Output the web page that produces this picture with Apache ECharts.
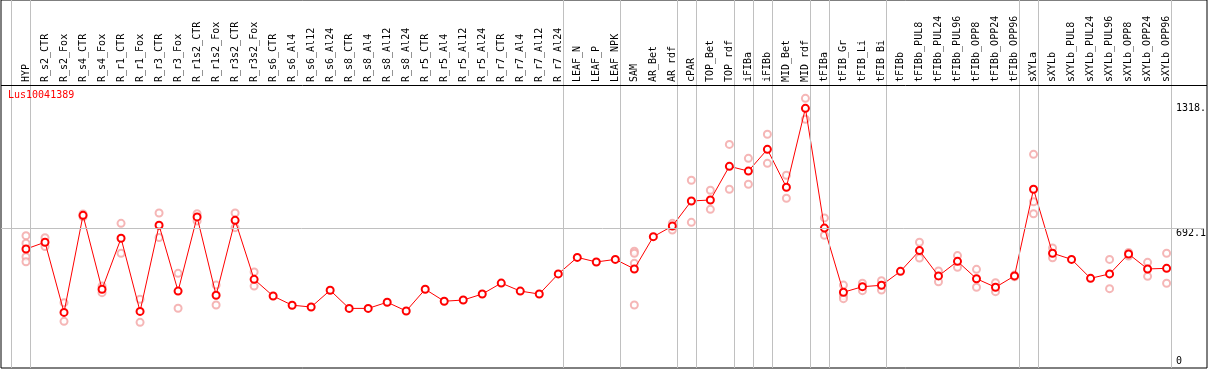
<!DOCTYPE html>
<html>
<head>
<meta charset="utf-8">
<script src="https://cdn.jsdelivr.net/npm/echarts@6/dist/echarts.min.js"></script>
<style>html,body{margin:0;padding:0;background:#fff;}#c{width:1209px;height:370px;}</style>
</head>
<body>
<div id="c"></div>
<script>
const title = 'Lus10041389';
const categories = ['HYP','R_s2_CTR','R_s2_Fox','R_s4_CTR','R_s4_Fox','R_r1_CTR','R_r1_Fox','R_r3_CTR','R_r3_Fox','R_r1s2_CTR','R_r1s2_Fox','R_r3s2_CTR','R_r3s2_Fox','R_s6_CTR','R_s6_Al4','R_s6_Al12','R_s6_Al24','R_s8_CTR','R_s8_Al4','R_s8_Al12','R_s8_Al24','R_r5_CTR','R_r5_Al4','R_r5_Al12','R_r5_Al24','R_r7_CTR','R_r7_Al4','R_r7_Al12','R_r7_Al24','LEAF_N','LEAF_P','LEAF_NPK','SAM','AR_Bet','AR_rdf','cPAR','TOP_Bet','TOP_rdf','iFIBa','iFIBb','MID_Bet','MID_rdf','tFIBa','tFIB_Gr','tFIB_Li','tFIB_Bi','tFIBb','tFIBb_PUL8','tFIBb_PUL24','tFIBb_PUL96','tFIBb_OPP8','tFIBb_OPP24','tFIBb_OPP96','sXYLa','sXYLb','sXYLb_PUL8','sXYLb_PUL24','sXYLb_PUL96','sXYLb_OPP8','sXYLb_OPP24','sXYLb_OPP96'];
const means = [587,621,269,756,385,641,274,706,376,748,355,731,435,351,305,296,380,289,289,320,276,385,325,331,361,416,376,361,462,545,522,535,487,649,702,828,833,1002,978,1087,897,1293,692,370,398,405,475,579,452,525,438,395,452,887,566,535,440,462,562,487,490];
const replicates = [
  [654,616,548,523],[644,599],[318,224],[763,749],[401,368],[716,566],[335,219],[768,645],[465,290],[764,728],[406,306],[768,694],[472,401],
  [],[],[],[],[],[],[],[],[],[],[],[],[],[],[],[],[],[],[],
  [576,566,515,306],[],[716,682],[932,721],[882,786],[1112,887],[1042,912],[1163,1017],[957,842],[1343,1238],[743,656],
  [406,351,338],[415,378],[428,381],[],[621,542],[477,423],[554,495],[485,395],[418,373],[456,448],
  [1062,824,764],[592,543],[],[],[535,388],[570,552],[520,450],[566,415]
];
const yTickValues = [1318, 692.1];
const yTickLabels = ['1318.', '692.1'];
const yZero = [0];
const refLine = 692.1;
const groupEnds = [-1,0,28,31,34,35,37,38,39,41,42,45,52,53,60];

// layout
const STEP = 19.01, X0 = 26, FL = 1, FR = 1207;
const XMIN = (FL - X0) / STEP, XMAX = (FR - X0) / STEP;
const SEP_OFF = 0.237;
const FONT = 'DejaVu Sans Mono';

const repData = [];
replicates.forEach((arr, i) => arr.forEach(v => repData.push([i, v])));

const chart = echarts.init(document.getElementById('c'), null, {renderer: 'canvas'});
chart.setOption({
  animation: false,
  backgroundColor: '#fff',
  title: {text: title, left: 8, top: 90, padding: 0,
    textStyle: {color: '#ff0000', fontSize: 10, fontWeight: 'normal', fontFamily: FONT}},
  grid: [
    {left: FL, top: 0, width: FR - FL, height: 368, show: true, borderColor: '#000', borderWidth: 1, backgroundColor: 'transparent'},
    {left: FL, top: 85, width: FR - FL, height: 281},
    {left: X0 - STEP / 2, top: 85, width: STEP * categories.length, height: 281}
  ],
  xAxis: [
    {gridIndex: 0, type: 'value', min: XMIN, max: XMAX, show: false},
    {gridIndex: 1, type: 'value', min: 0, max: 1, show: false},
    {gridIndex: 2, type: 'category', data: categories, position: 'top', boundaryGap: true,
      axisLine: {show: false}, axisTick: {show: false}, splitLine: {show: false},
      axisLabel: {interval: 0, rotate: 90, margin: 3, color: '#000', fontSize: 10, fontFamily: FONT}}
  ],
  yAxis: [
    {gridIndex: 0, type: 'value', min: 0, max: 368, inverse: true, show: false},
    {gridIndex: 1, type: 'value', min: 0, max: 1410, position: 'right',
      axisLine: {show: false}, axisTick: {show: false}, splitLine: {show: false},
      axisLabel: {inside: true, margin: 28, align: 'left', verticalAlign: 'top', color: '#000', fontSize: 10, fontFamily: FONT,
        customValues: yTickValues,
        formatter: v => { const k = yTickValues.findIndex(t => Math.abs(t - v) < 1e-6); return k >= 0 ? yTickLabels[k] : ''; }}},
    {gridIndex: 1, type: 'value', min: 0, max: 1410, position: 'right',
      axisLine: {show: false}, axisTick: {show: false}, splitLine: {show: false},
      axisLabel: {inside: true, margin: 28, align: 'left', verticalAlign: 'bottom', color: '#000', fontSize: 10, fontFamily: FONT,
        customValues: yZero, formatter: v => String(v)}},
    {gridIndex: 2, type: 'value', min: 0, max: 1410, show: false}
  ],
  series: [
    {type: 'scatter', xAxisIndex: 0, yAxisIndex: 0, data: [], silent: true,
      markLine: {silent: true, symbol: 'none', label: {show: false}, animation: false,
        data: groupEnds.map(g => ({xAxis: g + SEP_OFF, lineStyle: {color: '#c0c0c0', width: 1, type: 'solid'}}))
          .concat([{yAxis: 85, lineStyle: {color: '#000', width: 1, type: 'solid'}}])}},
    {type: 'scatter', xAxisIndex: 1, yAxisIndex: 1, data: [], silent: true,
      markLine: {silent: true, symbol: 'none', label: {show: false}, animation: false,
        data: [{yAxis: refLine}], lineStyle: {color: '#c0c0c0', width: 1, type: 'solid'}}},
    {type: 'scatter', xAxisIndex: 2, yAxisIndex: 3, data: repData, clip: false,
      symbol: 'emptyCircle', symbolSize: 7, z: 3,
      itemStyle: {color: '#f2a4a4', borderColor: '#f2a4a4', borderWidth: 1}},
    {type: 'line', xAxisIndex: 2, yAxisIndex: 3, data: means, clip: false,
      symbol: 'emptyCircle', symbolSize: 7, z: 4,
      lineStyle: {color: '#ff0000', width: 1},
      itemStyle: {color: '#ff0000', borderColor: '#ff0000', borderWidth: 1.3}}
  ]
});
</script>
</body>
</html>
